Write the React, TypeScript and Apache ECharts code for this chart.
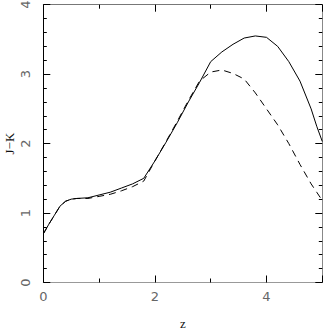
import React, { useEffect, useRef } from "react";
import * as echarts from "echarts";

const zValues = [0, 0.1, 0.2, 0.3, 0.4, 0.5, 0.6, 0.8, 1.0, 1.2, 1.4, 1.6, 1.8, 2.0, 2.2, 2.4, 2.6, 2.8, 3.0, 3.2, 3.4, 3.6, 3.8, 4.0, 4.2, 4.4, 4.6, 4.8, 4.9, 5.0];
const solidJK = [0.7, 0.84, 0.97, 1.1, 1.17, 1.2, 1.21, 1.22, 1.26, 1.3, 1.36, 1.42, 1.5, 1.75, 2.02, 2.3, 2.6, 2.88, 3.18, 3.32, 3.43, 3.52, 3.55, 3.53, 3.4, 3.18, 2.9, 2.5, 2.25, 2.03];
const dashedJK = [0.7, 0.84, 0.97, 1.1, 1.17, 1.2, 1.21, 1.21, 1.24, 1.27, 1.32, 1.38, 1.46, 1.75, 2.03, 2.32, 2.62, 2.9, 3.03, 3.06, 3.01, 2.93, 2.73, 2.5, 2.27, 2.0, 1.7, 1.42, 1.3, 1.18];

const xName = "z";
const yName = "J−K";

export default function App() {
  const ref = useRef<HTMLDivElement>(null);
  useEffect(() => {
    if (!ref.current) return;
    const chart = echarts.init(ref.current, null, { renderer: "svg" });
    const labelFont = { fontFamily: "DejaVu Sans", fontSize: 13, color: "#666" };
    const nameFont = { fontFamily: "Liberation Serif", fontSize: 13, color: "#111", lineHeight: 12 };
    const mkX = (pos: string, lineColor: string, labels: boolean) => ({
      type: "value",
      position: pos,
      min: 0,
      max: 5,
      interval: 2,
      splitLine: { show: false },
      axisLine: { show: true, onZero: false, lineStyle: { color: lineColor, width: 1 } },
      axisTick: { show: true, inside: true, length: 7, lineStyle: { color: "#000" } },
      minorTick: { show: true, splitNumber: 2, length: 4, lineStyle: { color: "#000" } },
      axisLabel: labels
        ? { show: true, inside: false, margin: 7, showMaxLabel: false, ...labelFont }
        : { show: false },
    });
    const mkY = (pos: string, lineColor: string, labels: boolean) => ({
      type: "value",
      position: pos,
      min: 0,
      max: 4,
      interval: 1,
      splitLine: { show: false },
      axisLine: { show: true, onZero: false, lineStyle: { color: lineColor, width: 1 } },
      axisTick: { show: true, inside: true, length: 7, lineStyle: { color: "#000" } },
      minorTick: { show: true, splitNumber: 5, length: 3.5, lineStyle: { color: "#000" } },
      axisLabel: labels
        ? { show: true, inside: false, rotate: 90, margin: 11, ...labelFont }
        : { show: false },
    });
    chart.setOption({
      animation: false,
      backgroundColor: "#fff",
      grid: {
        left: 43.3,
        right: 0.7,
        top: 4.7,
        bottom: 49.5,
        containLabel: false,
        outerBoundsMode: "none",
      },
      xAxis: [
        {
          ...mkX("bottom", "#999", true),
          name: xName,
          nameLocation: "middle",
          nameGap: 35,
          nameMoveOverlap: false,
          nameTextStyle: nameFont,
        },
        mkX("top", "#777", false),
      ],
      yAxis: [
        {
          ...mkY("left", "#000", true),
          name: yName,
          nameLocation: "middle",
          nameRotate: 90,
          nameGap: 28,
          nameMoveOverlap: false,
          nameTextStyle: nameFont,
        },
        mkY("right", "#888", false),
      ],
      series: [
        {
          type: "line",
          xAxisIndex: 0,
          yAxisIndex: 0,
          data: zValues.map((z, i) => [z, solidJK[i]]),
          showSymbol: false,
          smooth: false,
          lineStyle: { color: "#000", width: 1, type: "solid" },
        },
        {
          type: "line",
          xAxisIndex: 0,
          yAxisIndex: 0,
          data: zValues.map((z, i) => [z, dashedJK[i]]),
          showSymbol: false,
          smooth: false,
          lineStyle: { color: "#000", width: 1, type: [7, 5] },
        },
      ],
    });
    return () => chart.dispose();
  }, []);
  return (
    <div
      ref={ref}
      style={{ position: "fixed", left: 0, top: 0, width: 323, height: 332, background: "#fff" }}
    />
  );
}
